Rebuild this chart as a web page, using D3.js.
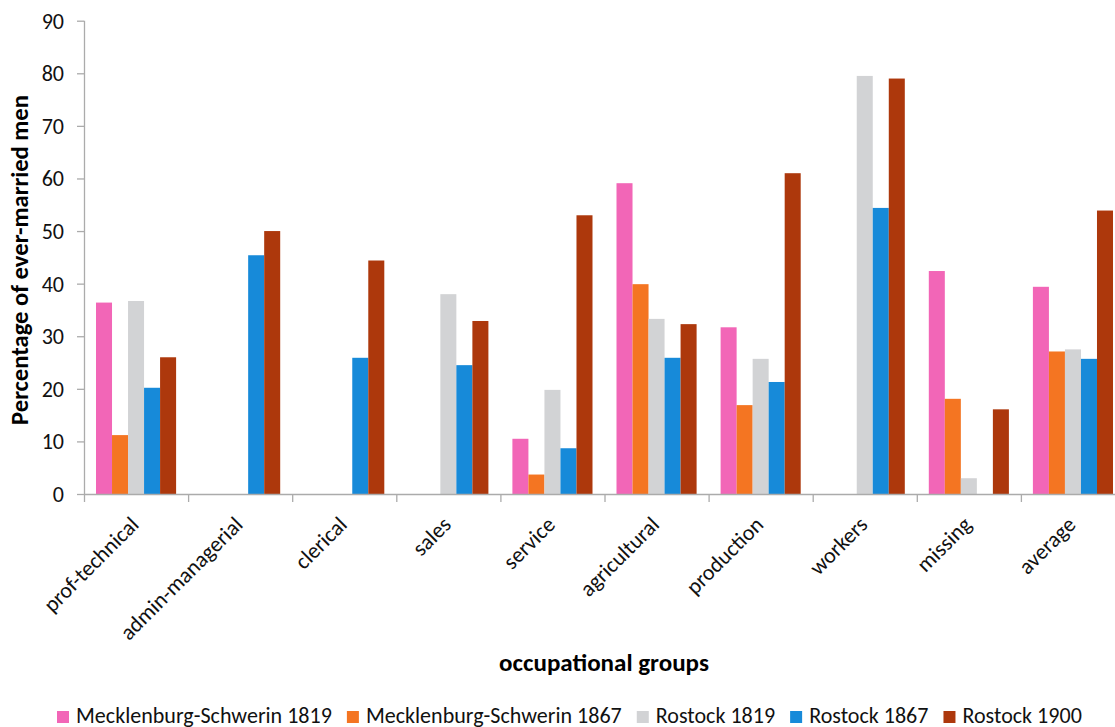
<!DOCTYPE html>
<html><head><meta charset="utf-8">
<script src="https://cdn.jsdelivr.net/npm/d3@7"></script>
<style>body{margin:0;background:#fff;overflow:hidden}</style></head>
<body><svg id="c" width="1115" height="727"></svg>
<script>
const categories = ["prof-technical","admin-managerial","clerical","sales","service","agricultural","production","workers","missing","average"];
const seriesNames = ["Mecklenburg-Schwerin 1819","Mecklenburg-Schwerin 1867","Rostock 1819","Rostock 1867","Rostock 1900"];
const mecklenburg1819 = [36.4, null, null, null, 10.5, 59.1, 31.7, null, 42.4, 39.4];
const mecklenburg1867 = [11.2, null, null, null, 3.7, 39.9, 16.9, null, 18.1, 27.1];
const rostock1819     = [36.7, null, null, 38.0, 19.8, 33.3, 25.7, 79.5, 3.0, 27.5];
const rostock1867     = [20.2, 45.4, 25.9, 24.5, 8.7, 25.9, 21.3, 54.4, null, 25.7];
const rostock1900     = [26.0, 50.0, 44.4, 32.9, 53.0, 32.3, 61.0, 79.0, 16.1, 53.9];
const yTicks = [0,10,20,30,40,50,60,70,80,90];
const colors = ["#F266B7","#F47522","#D2D3D5","#178AD9","#AD380C"];

const seriesValues = [mecklenburg1819, mecklenburg1867, rostock1819, rostock1867, rostock1900];
const svg = d3.select("#c");
const FONT = "Carlito, Lato, 'Open Sans', sans-serif";
const axisColor = "#ABABAB";

// fit font size to a target width
function fit(text, target, weight){
  const t = svg.append("text").attr("font-family",FONT).attr("font-size",100).attr("font-weight",weight||"normal").text(text);
  const w = t.node().getComputedTextLength(); t.remove();
  return 100*target/w;
}
const fsReg = fit("Mecklenburg-Schwerin 1819", 256);
const fsXT = fit("occupational groups", 210, "bold");
const fsYT = fit("Percentage of ever-married men", 330, "bold");

const x0 = 84, x1 = 1125, yB = 494, yT = 20.7;
const x = d3.scaleBand().domain(categories).range([x0, x1]).padding(0);
const bw = x.bandwidth();
const inner = d3.scaleBand().domain(seriesNames).range([12, bw-12]).padding(0);
const y = d3.scaleLinear().domain([0,90]).range([yB, yT]);

// bars
const data = [];
categories.forEach((c,i)=>seriesNames.forEach((s,j)=>{
  const v = seriesValues[j][i];
  if (v !== null) data.push({c, s, v, color: colors[j]});
}));
svg.append("g").selectAll("rect").data(data).join("rect")
  .attr("x", d=>x(d.c)+inner(d.s)).attr("width", inner.bandwidth())
  .attr("y", d=>y(d.v)).attr("height", d=>yB-y(d.v))
  .attr("fill", d=>d.color);

// y axis
const ya = svg.append("g").attr("transform",`translate(${x0},0)`)
  .call(d3.axisLeft(y).tickValues(yTicks).tickSize(7).tickPadding(13).tickFormat(d3.format("d")));
ya.select(".domain").attr("stroke",axisColor).attr("stroke-width",1.3).attr("d",`M0.5,${yB}V${yT}`);
ya.selectAll(".tick line").attr("stroke",axisColor).attr("stroke-width",1.3);
ya.selectAll(".tick text").attr("font-family",FONT).attr("font-size",fsReg).attr("fill","#111").attr("dy","0.34em");

// x axis
const xa = svg.append("g").attr("transform",`translate(0,${yB})`)
  .call(d3.axisBottom(x).tickSize(0).tickFormat(""));
xa.select(".domain").attr("stroke",axisColor).attr("stroke-width",1.3).attr("d",`M${x0},0.5H${x1}`);
xa.selectAll(".tick line").remove();
const boundaries = d3.range(categories.length+1).map(i=>x0+i*bw);
svg.append("g").selectAll("line").data(boundaries).join("line")
  .attr("x1",d=>d+0.5).attr("x2",d=>d+0.5).attr("y1",yB).attr("y2",yB+8)
  .attr("stroke",axisColor).attr("stroke-width",1.3);
svg.append("g").selectAll("text").data(categories).join("text")
  .attr("transform", d=>`translate(${x(d)+bw/2+4},${yB+32}) rotate(-45)`)
  .attr("text-anchor","end").attr("font-family",FONT).attr("font-size",fsReg).attr("fill","#111")
  .text(d=>d);

// titles
svg.append("text").attr("x",604).attr("y",671).attr("text-anchor","middle")
  .attr("font-family",FONT).attr("font-weight","bold").attr("font-size",fsXT).attr("fill","#000")
  .text("occupational groups");
svg.append("text").attr("transform",`translate(27.5,260) rotate(-90)`).attr("text-anchor","middle")
  .attr("font-family",FONT).attr("font-weight","bold").attr("font-size",fsYT).attr("fill","#000")
  .text("Percentage of ever-married men");

// legend
const lg = svg.append("g");
let lx = 57;
seriesNames.forEach((s,j)=>{
  lg.append("rect").attr("x",lx).attr("y",711).attr("width",12).attr("height",12).attr("fill",colors[j]);
  const t = lg.append("text").attr("x",lx+19).attr("y",722.5).attr("font-family",FONT).attr("font-size",fsReg).attr("fill","#111").text(s);
  lx += 19 + t.node().getComputedTextLength() + 15;
});
</script></body></html>
